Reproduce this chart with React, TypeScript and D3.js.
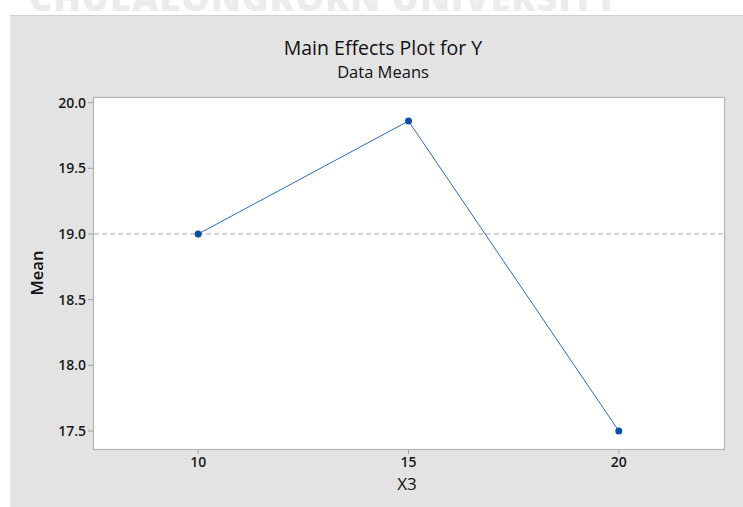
import React from "react";
import * as d3 from "d3";

const xLevels = [10, 15, 20];
const meansY = [19.0, 19.86, 17.5];
const grandMean = 19.0;
const yTicks = [17.5, 18.0, 18.5, 19.0, 19.5, 20.0];
const xTicks = [10, 15, 20];

const W = 743, H = 507;
const plot = { left: 93, top: 97, right: 724, bottom: 449 };

export default function App() {
  const x = d3.scaleLinear().domain([7.5, 22.5]).range([plot.left, plot.right]);
  const y = d3.scaleLinear().domain([17.363, 20.043]).range([plot.bottom, plot.top]);
  const line = d3.line<number>().x((d, i) => x(xLevels[i])).y((d) => y(d));
  const font = "'Open Sans', 'Noto Sans', sans-serif";
  return (
    <svg width={W} height={H} style={{ position: "absolute", left: 0, top: 0, display: "block" }}>
      <rect x={0} y={0} width={W} height={H} fill="#ffffff" />
      <text x={324} y={11} textAnchor="middle" fontFamily={font} fontWeight={800} fontSize={36} fill="#ececec" letterSpacing={1}>
        CHULALONGKORN UNIVERSITY
      </text>
      <rect x={10} y={15} width={W - 10} height={H - 15} fill="#e3e3e3" />
      <line x1={10} x2={W} y1={15.5} y2={15.5} stroke="#cfcfcf" />
      <rect x={plot.left + 0.5} y={plot.top + 0.5} width={plot.right - plot.left} height={plot.bottom - plot.top} fill="#ffffff" stroke="#b4b4b4" strokeWidth={1.2} />
      <text x={383} y={55} textAnchor="middle" fontFamily={font} fontSize={19.5} fontWeight={500} fill="#111">Main Effects Plot for Y</text>
      <text x={383} y={78} textAnchor="middle" fontFamily={font} fontSize={16.5} fontWeight={500} fill="#111">Data Means</text>
      {yTicks.map((t) => (
        <g key={t}>
          <line x1={plot.left - 5} x2={plot.left} y1={y(t)} y2={y(t)} stroke="#a0a0a0" />
          <text x={plot.left - 7} y={y(t)} dy="0.35em" textAnchor="end" fontFamily={font} fontSize={14} fontWeight={600} fill="#1a1a1a">{t.toFixed(1)}</text>
        </g>
      ))}
      {xTicks.map((t) => (
        <g key={t}>
          <line x1={x(t)} x2={x(t)} y1={plot.bottom + 1} y2={plot.bottom + 5} stroke="#a0a0a0" />
          <text x={x(t)} y={462} dy="0.35em" textAnchor="middle" fontFamily={font} fontSize={14} fontWeight={600} fill="#1a1a1a">{t}</text>
        </g>
      ))}
      <text x={407} y={484} dy="0.35em" textAnchor="middle" fontFamily={font} fontSize={17} fontWeight={500} fill="#111">X3</text>
      <text transform={`translate(37,${273}) rotate(-90)`} dy="0.35em" textAnchor="middle" fontFamily={font} fontSize={16.5} fontWeight={600} fill="#111">Mean</text>
      <line x1={plot.left + 1} x2={plot.right} y1={y(grandMean)} y2={y(grandMean)} stroke="#a8a8a8" strokeDasharray="5,3" />
      <path d={line(meansY) || ""} fill="none" stroke="#2a6cc0" strokeWidth={1} />
      {meansY.map((v, i) => (
        <circle key={i} cx={x(xLevels[i])} cy={y(v)} r={3.5} fill="#0a4fa3" />
      ))}
    </svg>
  );
}
